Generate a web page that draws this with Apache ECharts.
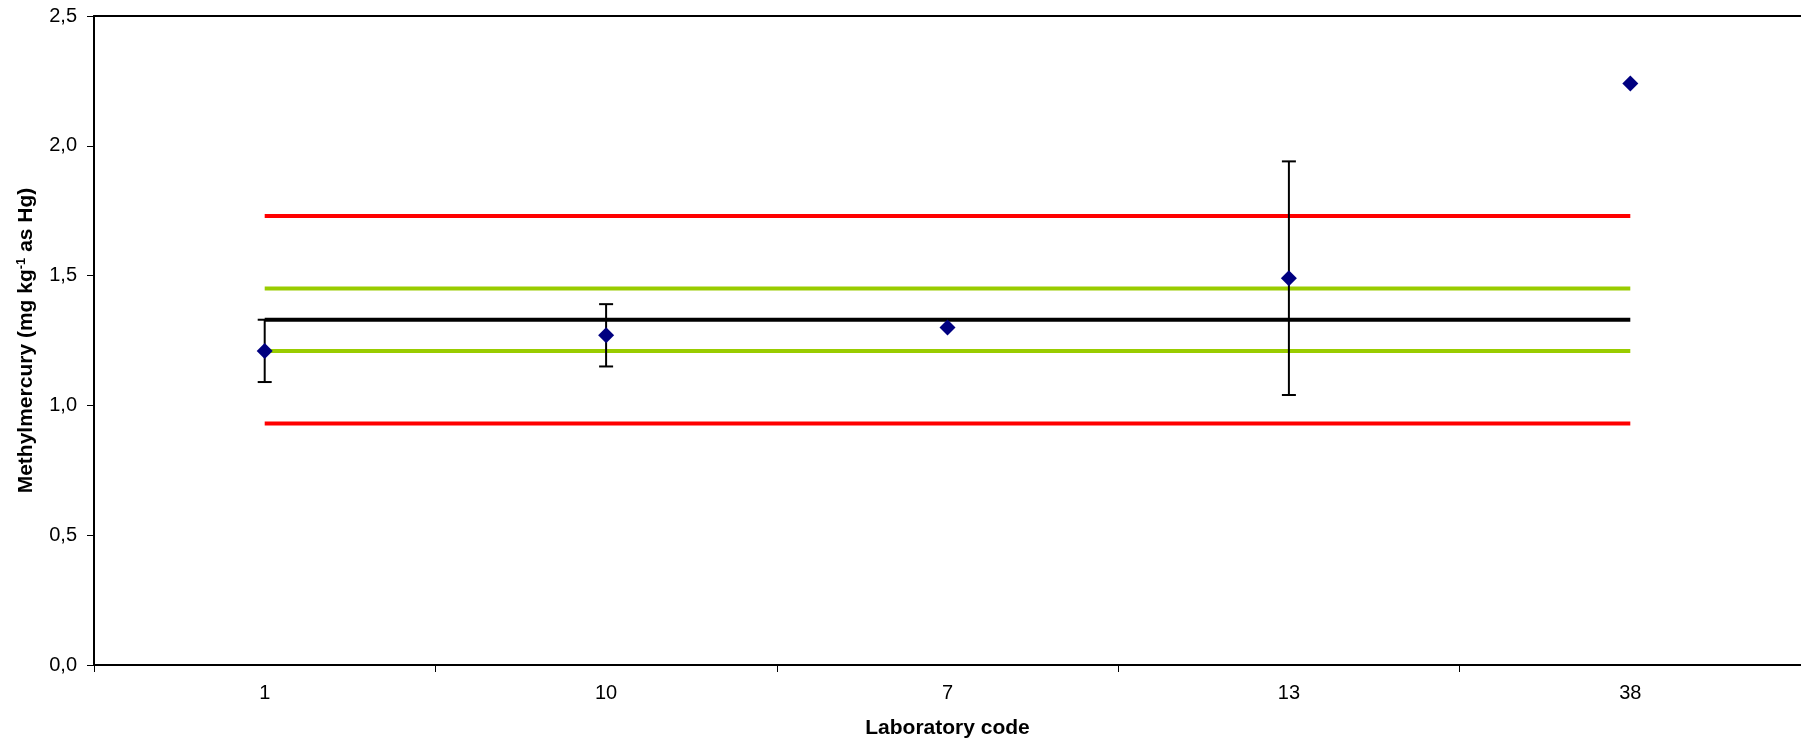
<!DOCTYPE html>
<html>
<head>
<meta charset="utf-8">
<script src="https://cdn.jsdelivr.net/npm/echarts@6/dist/echarts.min.js"></script>
<style>
html,body{margin:0;padding:0;background:#fff;}
#chart{width:1801px;height:744px;}
</style>
</head>
<body>
<div id="chart"></div>
<script>
// Data
var labCodes = ['1', '10', '7', '13', '38'];
var results = [1.21, 1.27, 1.30, 1.49, 2.24];
var uncertainty = [0.12, 0.12, null, 0.45, null];
var assignedLine = [1.33, 1.33, 1.33, 1.33, 1.33];
var greenUpper = [1.45, 1.45, 1.45, 1.45, 1.45];
var greenLower = [1.21, 1.21, 1.21, 1.21, 1.21];
var redUpper = [1.73, 1.73, 1.73, 1.73, 1.73];
var redLower = [0.93, 0.93, 0.93, 0.93, 0.93];
var yTicks = [0, 0.5, 1.0, 1.5, 2.0, 2.5];

var errData = [];
for (var i = 0; i < labCodes.length; i++) {
  if (uncertainty[i] != null) {
    errData.push([i, results[i] - uncertainty[i], results[i] + uncertainty[i]]);
  }
}

var FONT = '"Liberation Sans", Arial, sans-serif';
var chart = echarts.init(document.getElementById('chart'), null, {renderer: 'canvas'});

function hLine(name, data, color) {
  return {
    name: name, type: 'line', data: data, symbol: 'none', silent: true,
    lineStyle: {color: color, width: 4}, z: 2, animation: false
  };
}

var option = {
  animation: false,
  backgroundColor: '#ffffff',
  grid: {
    left: 94, top: 16, right: -5, bottom: 78,
    show: false
  },
  xAxis: [{
    type: 'category',
    data: labCodes,
    boundaryGap: true,
    name: 'Laboratory code',
    nameLocation: 'middle',
    nameGap: 53,
    nameTextStyle: {fontFamily: FONT, fontSize: 21, fontWeight: 'bold', color: '#000'},
    axisLine: {lineStyle: {color: '#000', width: 2}},
    axisTick: {show: true, inside: false, length: 7, alignWithLabel: false, lineStyle: {color: '#000', width: 1}},
    axisLabel: {fontFamily: FONT, fontSize: 20, color: '#000', margin: 18},
    splitLine: {show: false}
  }, {
    type: 'category',
    data: labCodes,
    position: 'top',
    boundaryGap: true,
    axisLine: {show: true, lineStyle: {color: '#000', width: 2}},
    axisTick: {show: false},
    axisLabel: {show: false},
    splitLine: {show: false}
  }],
  yAxis: {
    type: 'value',
    min: yTicks[0], max: yTicks[yTicks.length - 1], interval: 0.5,
    name: 'Methylmercury (mg kg{sup|-1} as Hg)',
    nameLocation: 'middle',
    nameGap: 56,
    nameRotate: 90,
    nameTextStyle: {
      fontFamily: FONT, fontSize: 21, fontWeight: 'bold', color: '#000',
      rich: {
        sup: {fontFamily: FONT, fontSize: 13, fontWeight: 'bold', color: '#000', padding: [0, 0, 10, 0]}
      }
    },
    axisLine: {show: true, lineStyle: {color: '#000', width: 2}},
    axisTick: {show: true, inside: false, length: 7, lineStyle: {color: '#000', width: 1}},
    axisLabel: {
      fontFamily: FONT, fontSize: 20, color: '#000', margin: 17,
      formatter: function (v) { return v.toFixed(1).replace('.', ','); }
    },
    splitLine: {show: false}
  },
  series: [
    hLine('Upper limit', redUpper, '#ff0000'),
    hLine('Lower limit', redLower, '#ff0000'),
    hLine('Upper green', greenUpper, '#99cc00'),
    hLine('Lower green', greenLower, '#99cc00'),
    hLine('Assigned value', assignedLine, '#000000'),
    {
      name: 'Uncertainty', type: 'custom', z: 3, silent: true,
      data: errData,
      renderItem: function (params, api) {
        var x = api.value(0);
        var lo = api.coord([x, api.value(1)]);
        var hi = api.coord([x, api.value(2)]);
        var hw = 7;
        var st = {stroke: '#000', lineWidth: 2};
        return {
          type: 'group',
          children: [
            {type: 'line', shape: {x1: hi[0], y1: hi[1], x2: lo[0], y2: lo[1]}, style: st},
            {type: 'line', shape: {x1: hi[0] - hw, y1: hi[1], x2: hi[0] + hw, y2: hi[1]}, style: st},
            {type: 'line', shape: {x1: lo[0] - hw, y1: lo[1], x2: lo[0] + hw, y2: lo[1]}, style: st}
          ]
        };
      },
      encode: {x: 0, y: [1, 2]}
    },
    {
      name: 'Result', type: 'scatter', z: 4,
      data: results,
      symbol: 'diamond', symbolSize: 16,
      itemStyle: {color: '#000080', opacity: 1}
    }
  ]
};
chart.setOption(option);
</script>
</body>
</html>
